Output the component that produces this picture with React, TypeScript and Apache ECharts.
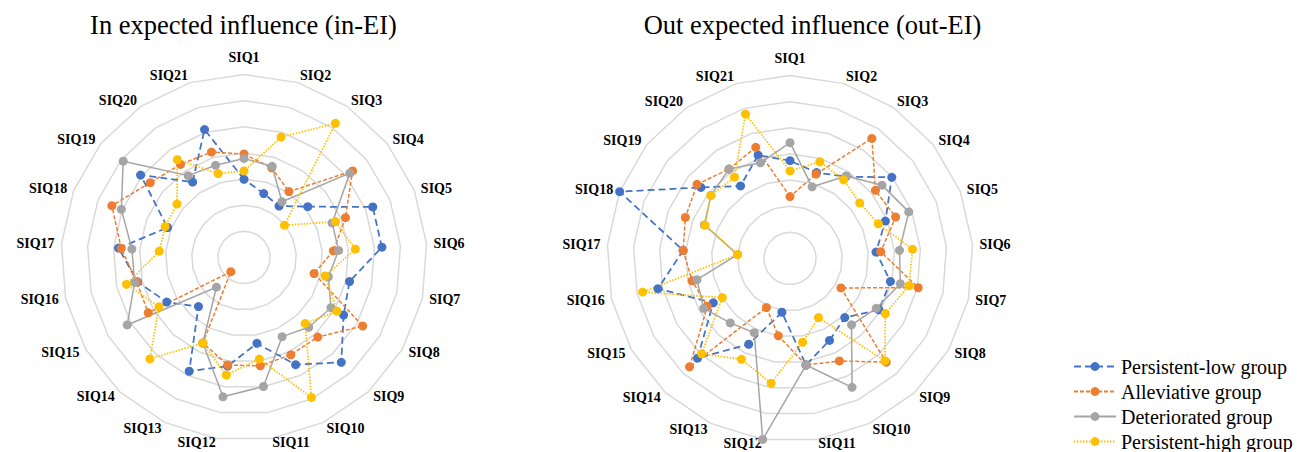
import React, { useEffect, useRef } from 'react';
import * as echarts from 'echarts';

const FONT = '"Liberation Serif", "Times New Roman", serif';

const indicatorNames = [
  'SIQ1', 'SIQ2', 'SIQ3', 'SIQ4', 'SIQ5', 'SIQ6', 'SIQ7', 'SIQ8', 'SIQ9', 'SIQ10', 'SIQ11',
  'SIQ12', 'SIQ13', 'SIQ14', 'SIQ15', 'SIQ16', 'SIQ17', 'SIQ18', 'SIQ19', 'SIQ20', 'SIQ21',
];

const groupNames = ['Persistent-low group', 'Alleviative group', 'Deteriorated group', 'Persistent-high group'];

// In expected influence (in-EI)
const inLow = [2.99, 2.56, 2.38, 3.12, 5.29, 5.29, 4.14, 4.40, 5.47, 4.55, 3.32, 4.20, 4.83, 2.56, 3.41, 4.18, 4.81, 3.14, 5.06, 3.49, 5.12];
const inAlleviative = [3.96, 3.59, 3.05, 5.31, 4.17, 3.43, 2.75, 5.24, 4.15, 4.13, 4.19, 4.16, 3.63, 0.74, 4.23, 4.21, 4.71, 5.43, 4.59, 4.31, 4.22];
const inDeteriorated = [3.79, 3.65, 2.58, 5.18, 3.62, 3.63, 3.31, 3.84, 3.64, 3.36, 4.99, 5.39, 3.63, 1.55, 5.16, 4.29, 4.30, 5.04, 5.91, 3.79, 3.69];
const inHigh = [3.31, 4.82, 6.21, 1.98, 3.76, 4.27, 3.18, 4.11, 3.44, 5.94, 3.93, 4.55, 3.63, 5.29, 3.76, 4.61, 3.25, 3.24, 3.28, 4.53, 3.36];

// Out expected influence (out-EI)
const outLow = [3.74, 3.44, 3.79, 4.98, 3.92, 3.30, 3.94, 3.93, 3.08, 3.48, 4.12, 2.08, 3.64, 5.20, 3.39, 5.18, 4.10, 7.00, 4.36, 3.36, 4.14];
const outAlleviative = [2.37, 3.38, 5.56, 4.18, 4.34, 3.48, 5.03, 2.25, 5.41, 4.35, 4.12, 2.99, 2.08, 5.65, 3.65, 3.84, 4.10, 4.30, 4.55, 4.14, 4.45];
const outDeteriorated = [4.43, 2.87, 3.82, 4.50, 4.88, 4.20, 4.33, 3.81, 3.46, 5.47, 4.12, 7.00, 3.15, 3.36, 3.81, 3.65, 2.01, 3.52, 3.87, 4.14, 3.83];
const outHigh = [3.35, 3.87, 3.64, 3.41, 3.63, 4.70, 4.67, 4.21, 5.34, 2.51, 3.24, 4.83, 4.28, 4.97, 2.99, 5.78, 2.01, 3.49, 3.87, 3.77, 5.78];

const axisMin = 0;
const axisMax = 7;

const colors = ['#4472C4', '#ED7D31', '#A5A5A5', '#FFC000'];
const lineTypes: any[] = [[7, 4], [4, 2], 'solid', [1.5, 1.5]];
const lineWidths = [1.75, 1.5, 1.5, 1.75];

// ECharts places indicators counter-clockwise; reorder so SIQ1..SIQ21 run clockwise.
const order = [0, ...indicatorNames.map((_, i) => i).slice(1).reverse()];
const reorder = (arr: any[]) => order.map((i) => arr[i]);

export default function App() {
  const ref = useRef<HTMLDivElement>(null);

  useEffect(() => {
    if (!ref.current) return;
    const chart = echarts.init(ref.current, undefined, { renderer: 'svg' });

    const nameFont = { color: '#000', fontSize: 14, fontWeight: 'bold' as const, fontFamily: FONT };

    const radarBase = (center: number[]) => ({
      center,
      radius: 183,
      startAngle: 90,
      shape: 'polygon',
      splitNumber: 7,
      indicator: reorder(indicatorNames).map((n) => ({ name: n, min: axisMin, max: axisMax })),
      axisName: {
        ...nameFont,
        formatter: (name: string) =>
          name === 'SIQ1' ? `{t|${name}}` : name === 'SIQ11' || name === 'SIQ12' ? `{b|${name}}` : name,
        rich: {
          t: { ...nameFont, padding: [0, 0, 3, 0] },
          b: { ...nameFont, padding: [0, 0, 6, 0] },
        },
      },
      nameGap: 7,
      axisLine: { show: false },
      axisTick: { show: false },
      axisLabel: { show: false },
      splitArea: { show: false },
      splitLine: { lineStyle: { color: '#d9d9d9', width: 1.5 } },
    });

    const inData = [inLow, inAlleviative, inDeteriorated, inHigh];
    const outData = [outLow, outAlleviative, outDeteriorated, outHigh];

    const styleFor = (k: number) => ({
      symbol: 'circle',
      symbolSize: 9,
      itemStyle: { color: colors[k] },
      lineStyle: { color: colors[k], type: lineTypes[k], width: lineWidths[k] },
    });

    const legendSeries = groupNames.map((name, k) => ({
      type: 'line',
      name,
      data: [],
      ...styleFor(k),
    }));

    const radarSeries: any[] = [];
    [inData, outData].forEach((sets, ri) => {
      sets.forEach((vals, k) => {
        radarSeries.push({
          type: 'radar',
          name: groupNames[k],
          radarIndex: ri,
          ...styleFor(k),
          data: [{ name: groupNames[k], value: reorder(vals) }],
        });
      });
    });

    chart.setOption({
      animation: false,
      backgroundColor: '#ffffff',
      grid: { left: 0, top: 0, width: 1, height: 1, show: false },
      xAxis: { type: 'value', show: false },
      yAxis: { type: 'value', show: false },
      radar: [radarBase([244, 257.5]), radarBase([790, 258.5])],
      legend: {
        orient: 'vertical',
        left: 1073,
        top: 356.5,
        padding: 0,
        itemWidth: 42,
        itemHeight: 11,
        itemGap: 5,
        textStyle: { fontFamily: FONT, fontSize: 20, color: '#000' },
        data: groupNames,
      },
      graphic: [
        {
          type: 'text',
          x: 243.5,
          y: 25,
          style: {
            text: 'In expected influence (in-EI)',
            fill: '#000',
            font: `26.5px ${FONT}`,
            textAlign: 'center',
            textVerticalAlign: 'middle',
          },
        },
        {
          type: 'text',
          x: 812.5,
          y: 25,
          style: {
            text: 'Out expected influence (out-EI)',
            fill: '#000',
            font: `26.5px ${FONT}`,
            textAlign: 'center',
            textVerticalAlign: 'middle',
          },
        },
      ],
      series: [...legendSeries, ...radarSeries],
    });

    return () => chart.dispose();
  }, []);

  return (
    <div
      ref={ref}
      style={{ position: 'fixed', left: 0, top: 0, width: 1304, height: 452, background: '#fff' }}
    />
  );
}
